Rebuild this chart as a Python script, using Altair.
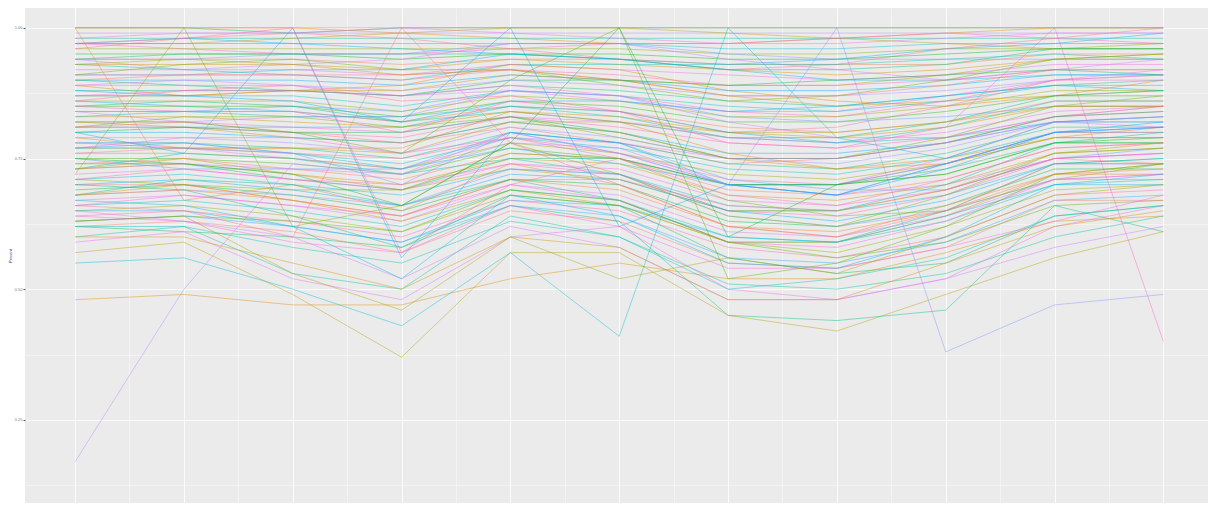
import math
import altair as alt
import pandas as pd

# x positions (11 time points)
x_points = [1, 2, 3, 4, 5, 6, 7, 8, 9, 10, 11]

# main band of series (values in percent)
band_series = [
    [100,100,100,100,100,100,100,100,100,100,100],
    [100,100,99,100,100,100,100,100,100,100,100],
    [99,99,99,99,99,99,99,99,99,99,99],
    [100,100,100,99,98,97,97,98,99,100,100],
    [98,98,98,98,98,98,98,98,98,98,98],
    [98,99,99,100,99,98,97,97,98,99,99],
    [97,97,98,99,100,100,99,98,97,96,96],
    [97,97,97,97,97,97,96,96,97,97,97],
    [97,96,95,95,96,97,97,98,99,98,97],
    [96,96,96,96,96,96,95,95,96,96,97],
    [97,98,97,96,95,94,93,94,96,97,99],
    [96,98,99,98,96,94,92,93,96,98,100],
    [95,95,95,94,95,95,94,94,95,96,96],
    [94,94,95,95,97,97,95,94,94,94,94],
    [94,94,94,93,94,94,93,93,93,95,95],
    [94,95,95,95,95,94,92,92,93,96,96],
    [94,92,93,94,97,97,94,92,90,92,94],
    [93,93,93,92,94,93,92,91,92,94,94],
    [93,92,91,90,93,93,93,93,94,95,94],
    [92,92,92,91,93,92,91,90,91,93,93],
    [93,94,93,91,92,90,89,89,91,94,95],
    [91,91,92,92,95,94,92,90,90,91,91],
    [91,91,91,90,92,91,89,89,90,92,92],
    [91,93,94,92,92,89,86,87,90,94,95],
    [90,90,90,89,91,90,88,88,89,91,91],
    [90,91,91,91,92,90,87,87,89,92,92],
    [90,89,88,87,90,90,89,90,91,92,91],
    [89,89,89,88,90,89,87,87,88,90,91],
    [89,87,88,89,93,92,88,86,85,87,90],
    [88,88,88,87,89,88,86,85,87,89,90],
    [89,90,89,87,88,86,84,84,87,90,92],
    [87,87,88,88,91,90,87,85,86,87,88],
    [87,87,87,85,88,87,85,84,86,89,89],
    [87,88,88,87,89,87,84,83,86,90,90],
    [86,86,86,84,87,86,83,83,85,88,88],
    [86,85,84,82,86,86,84,85,87,89,88],
    [86,88,89,86,87,84,80,81,85,90,91],
    [85,85,85,83,86,85,82,82,84,87,87],
    [84,84,85,84,88,87,83,82,83,85,85],
    [84,84,84,82,85,84,81,80,82,86,86],
    [85,86,85,82,84,82,79,79,82,87,88],
    [84,82,83,83,88,87,82,79,79,83,85],
    [83,83,82,81,84,83,80,79,81,85,85],
    [83,84,83,83,85,83,79,78,81,86,86],
    [82,82,81,80,83,82,79,78,80,84,85],
    [82,81,79,78,82,82,80,80,82,85,85],
    [81,81,81,81,85,84,80,78,79,82,83],
    [81,81,80,79,83,81,78,77,79,83,84],
    [81,83,83,81,83,79,75,75,79,85,87],
    [80,80,79,78,82,80,76,76,78,82,83],
    [81,82,80,78,81,78,74,75,78,83,85],
    [80,81,80,80,83,80,75,75,78,83,84],
    [79,79,78,76,81,79,75,74,77,82,82],
    [79,77,77,77,84,82,76,73,74,79,81],
    [78,78,77,75,80,78,74,73,76,81,81],
    [78,77,75,73,79,78,75,75,78,82,81],
    [77,77,77,76,82,80,75,73,75,79,79],
    [77,77,76,74,79,77,73,72,75,80,80],
    [77,79,79,76,79,75,70,70,75,82,83],
    [76,76,75,73,78,76,72,71,74,79,79],
    [77,78,76,73,77,74,70,70,74,80,81],
    [76,77,76,75,79,76,71,70,74,80,80],
    [75,75,74,72,77,75,70,70,72,78,78],
    [75,73,73,73,80,78,71,69,69,75,77],
    [74,75,73,71,76,75,69,68,71,77,78],
    [74,74,71,69,75,75,70,70,73,78,78],
    [73,74,73,72,78,77,70,68,70,75,76],
    [73,74,72,70,75,74,68,67,70,76,77],
    [73,76,75,72,75,72,65,65,70,78,80],
    [72,73,71,69,74,73,67,66,69,75,76],
    [73,75,72,69,73,71,65,65,69,76,78],
    [71,72,70,68,73,72,66,65,68,74,75],
    [71,73,71,70,74,72,65,64,68,75,76],
    [71,70,69,69,76,75,67,64,65,71,74],
    [70,71,69,66,72,71,65,63,67,74,74],
    [70,70,67,64,71,71,66,65,69,75,74],
    [69,70,68,65,71,70,63,62,66,73,73],
    [68,69,68,66,73,72,64,62,65,71,71],
    [68,69,67,64,71,69,62,61,65,72,72],
    [68,71,70,66,71,67,59,59,65,74,75],
    [67,68,66,63,70,68,61,60,64,71,72],
    [68,70,67,63,69,66,59,59,64,72,74],
    [66,67,65,62,69,67,60,59,63,70,71],
    [66,68,66,64,70,67,59,58,63,71,72],
    [65,66,64,61,68,66,59,57,62,69,70],
    [65,65,62,59,67,66,60,59,64,70,70],
    [64,65,63,60,67,65,58,56,60,68,69],
    [63,64,63,61,69,67,59,56,59,66,67],
    [63,64,62,59,66,64,56,55,59,67,68],
    [62,63,61,57,65,63,55,54,58,67,67],
    [62,61,60,58,68,66,56,53,55,64,66],
]

# irregular / outlying series (values in percent)
outlier_series = [
    [17,50,74,72,80,76,70,68,74,80,81],
    [48,49,47,47,52,55,52,52,57,63,64],
    [60,62,53,50,64,60,51,50,53,60,64],
    [59,61,52,48,60,62,50,48,52,62,66],
    [57,59,49,37,57,57,45,42,49,56,61],
    [55,56,50,43,57,41,100,79,75,82,82],
    [85,84,84,80,86,84,78,77,81,100,40],
    [72,100,62,66,78,72,64,62,68,76,77],
    [80,76,100,56,80,78,70,68,74,80,81],
    [66,65,60,100,78,70,62,60,65,74,74],
    [75,74,72,66,78,100,60,70,72,78,79],
    [78,78,76,70,80,76,70,100,38,47,49],
    [100,67,70,65,74,70,62,60,66,72,73],
    [70,69,64,58,66,63,45,44,46,66,61],
    [65,63,60,52,62,58,48,48,52,58,62],
    [60,60,55,50,60,58,48,48,55,62,65],
    [62,62,58,55,63,60,50,52,56,64,66],
    [64,63,59,57,66,62,54,54,58,63,68],
    [63,64,53,46,60,52,56,53,60,68,70],
    [67,66,62,52,68,64,55,54,60,70,72],
    [97,98,100,57,70,75,68,66,71,77,78],
    [82,82,80,76,90,100,52,55,62,72,74],
    [88,87,86,82,100,62,70,68,73,80,82],
]

all_series = band_series + outlier_series
n = len(all_series)

# series names, shuffled relative to vertical order
names = ["S%03d" % (((i * 41) % n) + 1) for i in range(n)]

rows = []
for name, vals in zip(names, all_series):
    for x, v in zip(x_points, vals):
        rows.append({"series": name, "x": x, "value": v / 100.0})
df = pd.DataFrame(rows)


def hcl_hex(h, c=100.0, l=65.0):
    hr = math.radians(h)
    u = c * math.cos(hr)
    v = c * math.sin(hr)
    Xn, Yn, Zn = 95.047, 100.0, 108.883
    un = 4 * Xn / (Xn + 15 * Yn + 3 * Zn)
    vn = 9 * Yn / (Xn + 15 * Yn + 3 * Zn)
    Y = Yn * ((l + 16) / 116) ** 3
    up = u / (13 * l) + un
    vp = v / (13 * l) + vn
    X = Y * 9 * up / (4 * vp)
    Z = Y * (12 - 3 * up - 20 * vp) / (4 * vp)
    X, Y, Z = X / 100, Y / 100, Z / 100
    r = 3.2406 * X - 1.5372 * Y - 0.4986 * Z
    g = -0.9689 * X + 1.8758 * Y + 0.0415 * Z
    b = 0.0557 * X - 0.2040 * Y + 1.0570 * Z

    def gam(c):
        c = 12.92 * c if c <= 0.0031308 else 1.055 * c ** (1 / 2.4) - 0.055
        return max(0, min(255, int(round(c * 255))))

    return "#%02x%02x%02x" % (gam(r), gam(g), gam(b))


domain = sorted(set(names))
hues = [15 + 360 * i / n for i in range(n)]
palette = [hcl_hex(h) for h in hues]

major_y = "abs(datum.value*4 - round(datum.value*4)) < 0.001"
major_x = "datum.value % 1 === 0"

chart = (
    alt.Chart(df)
    .mark_line(strokeWidth=0.8, opacity=0.55)
    .encode(
        x=alt.X(
            "x:Q",
            scale=alt.Scale(domain=[0.54, 11.41], nice=False, zero=False),
            axis=alt.Axis(
                values=[v / 2 for v in range(1, 24)],
                labels=False, ticks=False, domain=False, title=None,
                grid=True, gridColor="white",
                gridWidth={"condition": {"test": major_x, "value": 0.8}, "value": 0.4},
            ),
        ),
        y=alt.Y(
            "value:Q",
            scale=alt.Scale(domain=[0.091, 1.038], nice=False, zero=False),
            axis=alt.Axis(
                values=[0.125, 0.25, 0.375, 0.5, 0.625, 0.75, 0.875, 1.0],
                title="Percent", titleFontSize=4, titleColor="#333333",
                titleFont="Liberation Sans", titleFontWeight="normal", titlePadding=2,
                labelFontSize=4, labelColor="#777777", labelFont="Liberation Sans",
                labelPadding=1,
                labelExpr=f"{major_y} ? format(datum.value, '.2f') : ''",
                tickSize=2, tickColor="#555555",
                tickOpacity={"condition": {"test": major_y, "value": 1}, "value": 0},
                domain=False, grid=True, gridColor="white",
                gridWidth={"condition": {"test": major_y, "value": 0.8}, "value": 0.4},
            ),
        ),
        color=alt.Color("series:N", scale=alt.Scale(domain=domain, range=palette), legend=None),
        detail="series:N",
    )
    .properties(
        width=1200, height=495,
        autosize=alt.AutoSizeParams(type="fit", contains="padding"),
        padding=0,
        background="white",
    )
    .configure_view(fill="#EBEBEB", stroke=None)
)

chart.save("out.html", embed_options={"renderer": "svg", "actions": False})
